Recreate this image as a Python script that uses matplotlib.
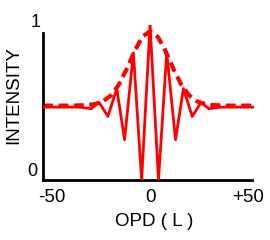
import matplotlib
matplotlib.use("Agg")
import matplotlib.pyplot as plt
import matplotlib.transforms as mtransforms

# fringe pattern (solid) - vertices
opd_fringe = [-54.6, -36, -30, -26, -21.5, -17, -13, -8.5, -4.3, 0, 4.3, 8.5, 13, 17, 21.5, 26, 30, 36, 53]
int_fringe = [0.47, 0.47, 0.46, 0.50, 0.41, 0.59, 0.26, 0.82, 0.0, 1.0, 0.0, 0.82, 0.26, 0.59, 0.41, 0.50, 0.46, 0.47, 0.47]

# envelope (dashed)
opd_env = [-54.6, -40, -32, -28, -24, -20, -16, -12, -8, -4, 0, 4, 8, 12, 16, 20, 24, 28, 32, 40, 53]
int_env = [0.48, 0.48, 0.483, 0.49, 0.507, 0.545, 0.613, 0.714, 0.829, 0.923, 0.96,
           0.923, 0.829, 0.714, 0.613, 0.545, 0.507, 0.49, 0.483, 0.48, 0.48]

x_ticks = [-50, 0, 50]
x_tick_labels = ['-50', '0', '+50']

plt.rcParams['font.family'] = ['Liberation Sans', 'DejaVu Sans']

W, H = 270, 240
fig = plt.figure(figsize=(W / 100, H / 100), dpi=100)
ax = fig.add_axes([43 / W, 60 / H, (254 - 43) / W, 155 / H])

red = '#ff0000'
ax.plot(opd_fringe, int_fringe, color=red, lw=2.0, solid_joinstyle='round', zorder=3)
ax.plot(opd_env, int_env, color=red, lw=3.0, dashes=(2.4, 1.3), zorder=2)

ax.set_xlim(-54.6, 53)
ax.set_ylim(0, 1.0)
for s in ['top', 'right']:
    ax.spines[s].set_visible(False)
ax.spines['left'].set_bounds(0, 0.95)
ax.spines['bottom'].set_bounds(-54.6, 52)
for s in ['left', 'bottom']:
    ax.spines[s].set_linewidth(2.0)
    ax.spines[s].set_color('black')
ax.set_xticks([])
ax.set_yticks([])
ax.patch.set_visible(False)

trans = mtransforms.blended_transform_factory(ax.transData, fig.transFigure)
for xv, lab in zip(x_ticks, x_tick_labels):
    ax.text(xv, 1 - 198 / H, lab, transform=trans, ha='center', va='center', fontsize=13.5)

fig.text(36 / W, 1 - 22.5 / H, '1', ha='center', va='center', fontsize=13)
fig.text(32.5 / W, 1 - 172 / H, '0', ha='center', va='center', fontsize=13)
fig.text(154 / W, 1 - 221 / H, 'OPD ( L )', ha='center', va='center', fontsize=13.5)
fig.text(14 / W, 1 - 95 / H, 'INTENSITY', ha='center', va='center', rotation=90, fontsize=13.5)

fig.savefig('out.png', dpi=100)
